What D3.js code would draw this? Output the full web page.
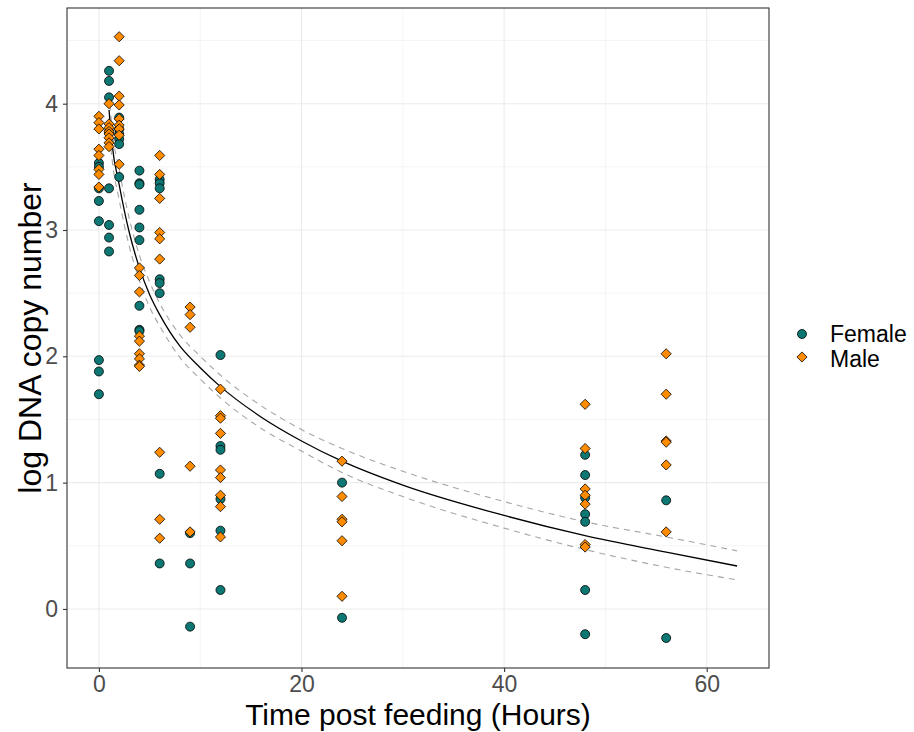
<!DOCTYPE html>
<html>
<head>
<meta charset="utf-8">
<script src="https://cdn.jsdelivr.net/npm/d3@7.9.0/dist/d3.min.js"></script>
<style>
  body { margin: 0; background: #fff; }
  svg { display: block; font-family: "Liberation Sans", Arial, sans-serif; }
</style>
</head>
<body>
<svg id="chart" width="914" height="732"></svg>
<script>
// sampling times (hours post feeding)
const timepoints = [0, 1, 2, 4, 6, 9, 12, 24, 48, 56];

// log DNA copy number, one list per timepoint
const femaleValues = [
  [3.53, 3.50, 3.33, 3.23, 3.07, 1.97, 1.88, 1.70],
  [4.26, 4.18, 4.05, 3.78, 3.33, 3.04, 2.94, 2.83],
  [3.89, 3.80, 3.76, 3.72, 3.68, 3.42],
  [3.47, 3.37, 3.36, 3.16, 3.02, 2.92, 2.40, 2.21, 2.20],
  [3.40, 3.37, 3.33, 2.61, 2.58, 2.50, 1.07, 0.36],
  [0.60, 0.36, -0.14],
  [2.01, 1.29, 1.26, 0.87, 0.62, 0.15],
  [1.00, -0.07],
  [1.22, 1.06, 0.88, 0.75, 0.69, 0.15, -0.20],
  [0.86, -0.23]
];

const maleValues = [
  [3.90, 3.85, 3.80, 3.64, 3.59, 3.48, 3.44, 3.34],
  [4.00, 3.84, 3.81, 3.78, 3.76, 3.73, 3.69, 3.66],
  [4.53, 4.34, 4.06, 3.99, 3.88, 3.83, 3.80, 3.75, 3.52],
  [2.70, 2.64, 2.51, 2.16, 2.12, 2.02, 1.98, 1.93, 1.92],
  [3.59, 3.44, 3.25, 2.98, 2.93, 2.77, 1.24, 0.71, 0.56],
  [2.39, 2.33, 2.23, 1.13, 0.61],
  [1.74, 1.53, 1.51, 1.39, 1.10, 1.04, 0.90, 0.81, 0.57],
  [1.17, 0.89, 0.71, 0.69, 0.54, 0.10],
  [1.62, 1.27, 0.95, 0.90, 0.83, 0.51, 0.49],
  [2.02, 1.70, 1.33, 1.32, 1.14, 0.61]
];

// fitted curve and confidence band
const fitHours = [1, 1.3, 2, 3, 4, 5, 6, 8, 10, 12, 16, 20, 24, 30, 40, 48, 56, 63];
const fitValue = [3.95, 3.68, 3.36, 2.98, 2.70, 2.49, 2.33, 2.08, 1.91, 1.76, 1.52, 1.33, 1.17, 0.98, 0.74, 0.58, 0.45, 0.34];
const upperValue = [4.08, 3.80, 3.48, 3.09, 2.80, 2.59, 2.42, 2.17, 2.00, 1.85, 1.61, 1.42, 1.27, 1.09, 0.85, 0.69, 0.57, 0.46];
const lowerValue = [3.82, 3.56, 3.24, 2.87, 2.60, 2.39, 2.24, 1.99, 1.82, 1.67, 1.43, 1.25, 1.08, 0.89, 0.64, 0.47, 0.33, 0.23];

const xTicks = [0, 20, 40, 60];
const yTicks = [0, 1, 2, 3, 4];
const sexes = ["Female", "Male"];
const sexColors = ["#0d7873", "#ff8c00"];

const svg = d3.select("#chart");
const panel = { left: 67, right: 769, top: 8, bottom: 668 };

const x = d3.scaleLinear().domain([-3.15, 66.15]).range([panel.left, panel.right]);
const y = d3.scaleLinear().domain([-0.4675, 4.7575]).range([panel.bottom, panel.top]);

// grid
const grid = svg.append("g");
[10, 30, 50].forEach((v) => {
  grid.append("line")
    .attr("x1", x(v)).attr("x2", x(v))
    .attr("y1", panel.top).attr("y2", panel.bottom)
    .attr("stroke", "#ebebeb").attr("stroke-width", 0.55);
});
[0.5, 1.5, 2.5, 3.5, 4.5].forEach((v) => {
  grid.append("line")
    .attr("x1", panel.left).attr("x2", panel.right)
    .attr("y1", y(v)).attr("y2", y(v))
    .attr("stroke", "#ebebeb").attr("stroke-width", 0.55);
});
xTicks.forEach((v) => {
  grid.append("line")
    .attr("x1", x(v)).attr("x2", x(v))
    .attr("y1", panel.top).attr("y2", panel.bottom)
    .attr("stroke", "#ebebeb").attr("stroke-width", 1.1);
});
yTicks.forEach((v) => {
  grid.append("line")
    .attr("x1", panel.left).attr("x2", panel.right)
    .attr("y1", y(v)).attr("y2", y(v))
    .attr("stroke", "#ebebeb").attr("stroke-width", 1.1);
});

// fitted curve + band
const bandLine = (vals) => d3.line()
  .x((d, i) => x(fitHours[i]))
  .y((d) => y(d))
  .curve(d3.curveMonotoneX)(vals);

svg.append("path").attr("d", bandLine(upperValue))
  .attr("fill", "none").attr("stroke", "#a6a6a6").attr("stroke-width", 1.1)
  .attr("stroke-dasharray", "6,5");
svg.append("path").attr("d", bandLine(lowerValue))
  .attr("fill", "none").attr("stroke", "#a6a6a6").attr("stroke-width", 1.1)
  .attr("stroke-dasharray", "6,5");
svg.append("path").attr("d", bandLine(fitValue))
  .attr("fill", "none").attr("stroke", "#000").attr("stroke-width", 1.3);

// points
const flatten = (values) => values.flatMap((vals, i) => vals.map((v) => ({ t: timepoints[i], v })));
const female = flatten(femaleValues);
const male = flatten(maleValues);

svg.append("g").selectAll("circle")
  .data(female).enter().append("circle")
  .attr("cx", (d) => x(d.t))
  .attr("cy", (d) => y(d.v))
  .attr("r", 4.5)
  .attr("fill", sexColors[0])
  .attr("stroke", "#000").attr("stroke-width", 0.8);

const diamond = d3.symbol().type(d3.symbolDiamond2).size(66);
svg.append("g").selectAll("path")
  .data(male).enter().append("path")
  .attr("d", diamond)
  .attr("transform", (d) => `translate(${x(d.t)},${y(d.v)})`)
  .attr("fill", sexColors[1])
  .attr("stroke", "#000").attr("stroke-width", 0.8);

// border
svg.append("rect")
  .attr("x", panel.left).attr("y", panel.top)
  .attr("width", panel.right - panel.left).attr("height", panel.bottom - panel.top)
  .attr("fill", "none").attr("stroke", "#333").attr("stroke-width", 1.1);

// axes
const xAxis = svg.append("g")
  .attr("transform", `translate(0,${panel.bottom})`)
  .call(d3.axisBottom(x).tickValues(xTicks).tickFormat(d3.format("d")).tickSize(4).tickPadding(4));
const yAxis = svg.append("g")
  .attr("transform", `translate(${panel.left},0)`)
  .call(d3.axisLeft(y).tickValues(yTicks).tickFormat(d3.format("d")).tickSize(4).tickPadding(5));
[xAxis, yAxis].forEach((g) => {
  g.select(".domain").remove();
  g.selectAll(".tick line").attr("stroke", "#333").attr("stroke-width", 1.1);
  g.selectAll(".tick text")
    .attr("fill", "#4d4d4d")
    .style("font-size", "23px")
    .style("font-family", "'Liberation Sans', Arial, sans-serif");
});

svg.append("text")
  .attr("x", (panel.left + panel.right) / 2).attr("y", 725)
  .attr("text-anchor", "middle")
  .style("font-size", "30px")
  .text("Time post feeding (Hours)");

svg.append("text")
  .attr("transform", `translate(41,${(panel.top + panel.bottom) / 2}) rotate(-90)`)
  .attr("text-anchor", "middle")
  .style("font-size", "32px")
  .text("log DNA copy number");

// legend
const legend = svg.append("g").attr("transform", "translate(802,334)");
legend.append("circle").attr("cx", 0).attr("cy", 0).attr("r", 4.5)
  .attr("fill", sexColors[0]).attr("stroke", "#000").attr("stroke-width", 0.8);
legend.append("path").attr("d", diamond).attr("transform", "translate(0,23)")
  .attr("fill", sexColors[1]).attr("stroke", "#000").attr("stroke-width", 0.8);
sexes.forEach((s, i) => {
  legend.append("text")
    .attr("x", 28).attr("y", i * 25 + 8)
    .style("font-size", "23px")
    .text(s);
});
</script>
</body>
</html>
